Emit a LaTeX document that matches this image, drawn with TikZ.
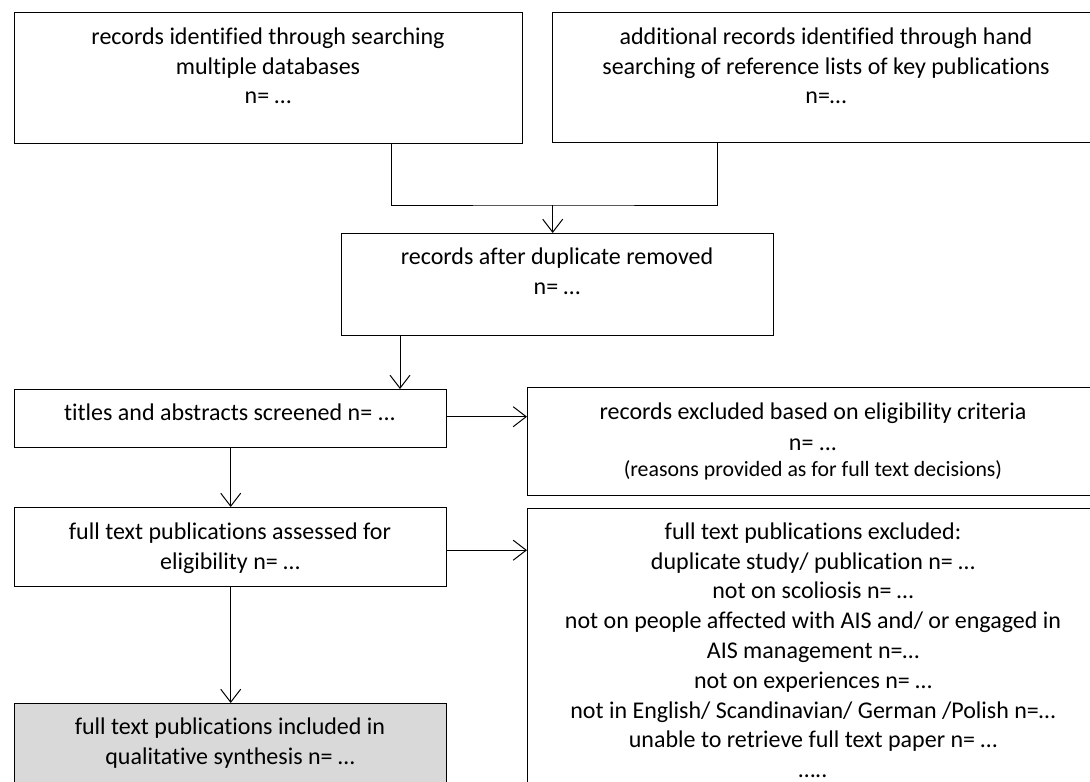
\documentclass[tikz,border=0pt]{standalone}
\usepackage{fontspec}
\setmainfont{Carlito}[Ligatures=CommonOff]
\usetikzlibrary{arrows.meta}
\tikzset{
  box/.style={draw=black, line width=1.4pt, inner sep=0pt, anchor=north west},
  grey/.style={box, fill=black!15},
  txt/.style={inner sep=0pt, align=center, anchor=north, font=\fontsize{24}{29.8}\selectfont},
  conn/.style={draw=black, line width=1pt},
  arr/.style={conn, -{Straight Barb[length=13pt,width=20pt,line width=1pt]}}
}
\begin{document}
\begin{tikzpicture}[x=1pt,y=-1pt]
\useasboundingbox (0,0) rectangle (1090,782);
\clip (0,0) rectangle (1090,782);
\fill[white] (0,0) rectangle (1090,782);
% boxes
\node[box, minimum width=508pt, minimum height=131pt] (A) at (14,12) {};
\node[box, minimum width=548pt, minimum height=130pt] (B) at (552,12) {};
\node[box, minimum width=432pt, minimum height=102pt] (C) at (341,233) {};
\node[box, minimum width=432pt, minimum height=58pt] (D) at (14,389) {};
\node[box, minimum width=573pt, minimum height=108pt] (E) at (527,387) {};
\node[box, minimum width=432pt, minimum height=79pt] (F) at (14,507) {};
\node[box, minimum width=573pt, minimum height=300pt] (G) at (527,508) {};
\node[grey, minimum width=432pt, minimum height=100pt] (H) at (14,703) {};
% texts
\node[txt] (tA) at (268,27.5) {records identified through searching\\ multiple databases\\ n= …};
\node[txt] (tB) at (826,27.5) {additional records identified through hand\\ searching of reference lists of key publications\\ n=…};
\node[txt] (tC) at (557,247.5) {records after duplicate removed\\ n= …};
\node[txt] (tD) at (230,403.5) {titles and abstracts screened n= ...};
\node[txt] (tE) at (813,402.5) {records excluded based on eligibility criteria\\[1.2pt] n= ...\\[-3.5pt] {\fontsize{21.8}{26}\selectfont (reasons provided as for full text decisions)}};
\node[txt] (tF) at (230,522.5) {full text publications assessed for\\ eligibility n= …};
\node[txt] (tG) at (813,522.5) {full text publications excluded:\\ duplicate study/ publication n= …\\ not on scoliosis n= …\\ not on people affected with AIS and/ or engaged in\\ AIS management n=…\\ not on experiences n= …\\ not in English/ Scandinavian/ German /Polish n=…\\ unable to retrieve full text paper n= …\\ …..};
\node[txt] (tH) at (230,717.5) {full text publications included in\\ qualitative synthesis n= …};
% connectors
\coordinate (J) at ([xshift=-5pt]C.north |- 0,205);
\draw[conn] ([xshift=377pt]A.south west) |- (J) -| ([xshift=165pt]B.south west);
\draw[arr] (J) -- ([xshift=-5pt]C.north);
\draw[arr] ([xshift=59pt]C.south west) -- ([xshift=59pt]C.south west |- D.north);
\draw[arr] ([yshift=2pt]D.east) -- ([yshift=2pt]D.east -| E.west);
\draw[arr] (D.south) -- (F.north);
\draw[arr] ([yshift=-3pt]F.east) -- ([yshift=-3pt]F.east -| G.west);
\draw[arr] (F.south) -- (H.north);
\end{tikzpicture}
\end{document}
